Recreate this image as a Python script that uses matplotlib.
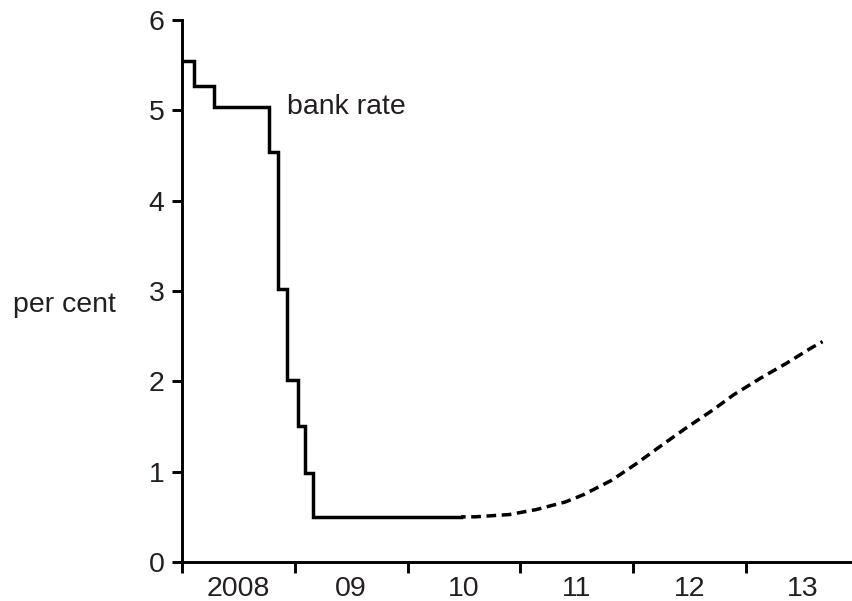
import numpy as np
import matplotlib
matplotlib.use('Agg')
import matplotlib.pyplot as plt
import matplotlib.ticker as ticker

"""
Bank rate (step line) and market-implied path (dashed), per cent.
"""

# bank rate: decimal year of each change and the new level
rate_dates = [2008.02, 2008.106, 2008.283, 2008.773, 2008.847, 2008.927,
              2009.024, 2009.088, 2009.162, 2010.475]
rate_vals = [5.55, 5.27, 5.04, 4.54, 3.02, 2.01, 1.50, 0.99, 0.50, 0.50]

# implied forward path
fwd_dates = [2010.475, 2010.60, 2010.90, 2011.14, 2011.40, 2011.56, 2011.81,
             2012.03, 2012.24, 2012.46, 2012.71, 2012.89, 2013.13, 2013.36,
             2013.58, 2013.68]
fwd_vals = [0.50, 0.50, 0.525, 0.58, 0.665, 0.745, 0.905, 1.09, 1.28, 1.475,
            1.685, 1.85, 2.035, 2.20, 2.37, 2.44]

year_edges = [2008, 2009, 2010, 2011, 2012, 2013]
year_labels = ['2008', '09', '10', '11', '12', '13']
y_ticks = [0, 1, 2, 3, 4, 5, 6]

txt_col = '#231f20'
plt.rcParams['font.family'] = ['Liberation Sans', 'DejaVu Sans']

fig = plt.figure(figsize=(8.53, 6.01), dpi=100)
ax = fig.add_axes([0.2134, 0.0649, 0.7866, 0.9018])

ax.step(rate_dates, rate_vals, where='post', color='black', lw=2.5,
        solid_joinstyle='miter', clip_on=False, zorder=3)
ax.plot(fwd_dates, fwd_vals, color='black', lw=2.5,
        linestyle=(1.5, (2.8, 1.6)), clip_on=False, zorder=3)

ax.set_xlim(2008, 2013.95)
ax.set_ylim(0, 6)

for side in ['top', 'right']:
    ax.spines[side].set_visible(False)
for side in ['left', 'bottom']:
    ax.spines[side].set_linewidth(2.1)
    ax.spines[side].set_color('black')

ax.set_yticks(y_ticks)
ax.tick_params(axis='y', direction='out', length=7.5, width=2.1,
               labelsize=20.5, labelcolor=txt_col, pad=5)

# major ticks at year boundaries, labels centred on each year
ax.xaxis.set_major_locator(ticker.FixedLocator(year_edges))
ax.xaxis.set_major_formatter(ticker.NullFormatter())
ax.xaxis.set_minor_locator(ticker.FixedLocator([y + 0.5 for y in year_edges]))
ax.xaxis.set_minor_formatter(ticker.FixedFormatter(year_labels))
ax.tick_params(axis='x', which='major', direction='out', length=8, width=2.1)
ax.tick_params(axis='x', which='minor', length=0, labelsize=20.5,
               labelcolor=txt_col, pad=10)

ax.text(2008.93, 5.04, 'bank rate', fontsize=20.5, color=txt_col,
        va='center', ha='left')
fig.text(0.0149, 0.493, 'per cent', fontsize=20.5, color=txt_col,
         va='center', ha='left')

plt.savefig('out.png', dpi=100)
